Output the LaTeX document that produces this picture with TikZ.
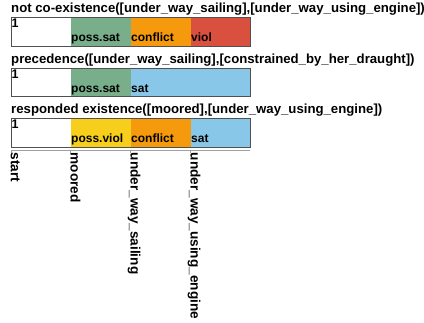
\documentclass[tikz,border=0pt]{standalone}
\usepackage{fontspec}
\setmainfont{Liberation Sans}
\definecolor{possgreen}{RGB}{120,174,138}
\definecolor{confl}{RGB}{245,154,12}
\definecolor{violred}{RGB}{217,80,63}
\definecolor{satblue}{RGB}{136,199,231}
\definecolor{possyellow}{RGB}{247,206,27}
\definecolor{barline}{RGB}{80,80,80}
\definecolor{axisgray}{RGB}{160,160,160}
\begin{document}
\begin{tikzpicture}[x=1pt,y=-1pt,
    title/.style={anchor=base west,inner sep=0pt,font=\bfseries\fontsize{13.2}{13.2}\selectfont},
    seglabel/.style={anchor=base west,inner sep=0pt,font=\bfseries\fontsize{12}{12}\selectfont},
    one/.style={anchor=base west,inner sep=0pt,font=\bfseries\fontsize{12.5}{12.5}\selectfont},
    tick/.style={anchor=base west,inner sep=0pt,rotate=-90,font=\bfseries\fontsize{13.6}{13.6}\selectfont},
    box/.style={draw=barline,line width=0.8pt}]
    \useasboundingbox (0,0) rectangle (424,323);

    %first constraint
    \node[title] (t1) at (11,12.5) {not co-existence([under\_way\_sailing],[under\_way\_using\_engine])};
    \fill[possgreen] (70.5,17.5) rectangle (130.5,46);
    \fill[confl] (130.5,17.5) rectangle (190.5,46);
    \fill[violred] (190.5,17.5) rectangle (250,46);
    \draw[box] (11,17.5) rectangle (250,46);
    \node[one] (o1) at (11.5,28) {1};
    \node[seglabel] (l11) at (71,42) {poss.sat};
    \node[seglabel] (l12) at (131,42) {conflict};
    \node[seglabel] (l13) at (191,42) {viol};

    %second constraint
    \node[title] (t2) at (11,63.5) {precedence([under\_way\_sailing],[constrained\_by\_her\_draught])};
    \fill[possgreen] (70.5,68) rectangle (130.5,96.5);
    \fill[satblue] (130.5,68) rectangle (250,96.5);
    \draw[box] (11,68) rectangle (250,96.5);
    \node[one] (o2) at (11.5,78.5) {1};
    \node[seglabel] (l21) at (71,92.5) {poss.sat};
    \node[seglabel] (l22) at (131,92.5) {sat};

    %third constraint
    \node[title] (t3) at (11,114) {responded existence([moored],[under\_way\_using\_engine])};
    \fill[possyellow] (70.5,118.5) rectangle (130.5,147);
    \fill[confl] (130.5,118.5) rectangle (190.5,147);
    \fill[satblue] (190.5,118.5) rectangle (250,147);
    \draw[box] (11,118.5) rectangle (250,147);
    \node[one] (o3) at (11.5,129) {1};
    \node[seglabel] (l31) at (71,143) {poss.viol};
    \node[seglabel] (l32) at (131,143) {conflict};
    \node[seglabel] (l33) at (191,143) {sat};

    %draw the time line with its events
    \draw[axisgray,line width=0.8pt] (11,150) -- (250,150);
    \foreach \x/\ev [count=\i] in {11/start,70.5/moored,130.5/under\_way\_sailing,190.5/under\_way\_using\_engine}{
        \draw[axisgray,line width=0.8pt] (\x,150) -- (\x,153);
        \node[tick] (e\i) at (\x,152.5) {\ev};
    }
\end{tikzpicture}
\end{document}
